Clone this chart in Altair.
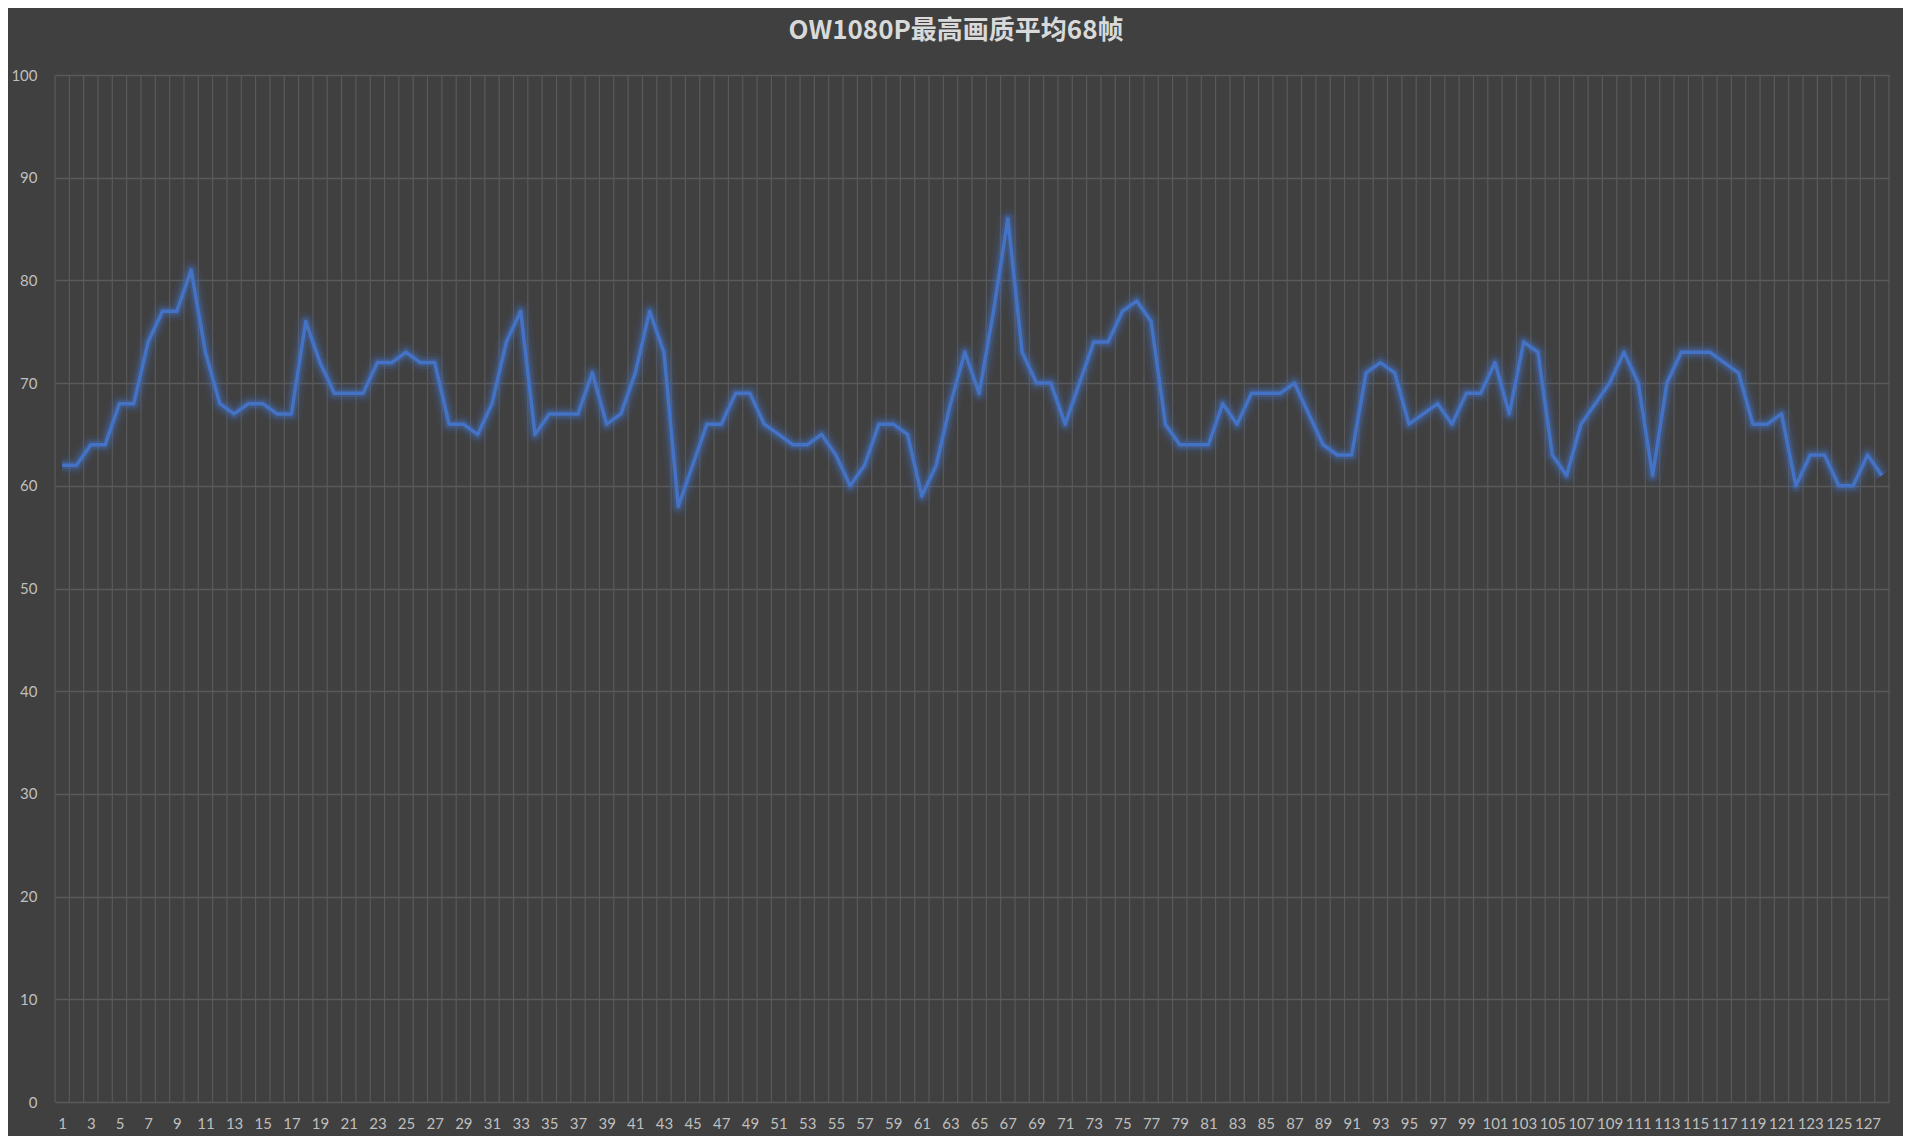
import altair as alt
import pandas as pd

title_text = "OW1080P最高画质平均68帧"

frames = [
    62, 62, 64, 64, 68, 68, 74, 77, 77, 81,
    73, 68, 67, 68, 68, 67, 67, 76, 72, 69,
    69, 69, 72, 72, 73, 72, 72, 66, 66, 65,
    68, 74, 77, 65, 67, 67, 67, 71, 66, 67,
    71, 77, 73, 58, 62, 66, 66, 69, 69, 66,
    65, 64, 64, 65, 63, 60, 62, 66, 66, 65,
    59, 62, 68, 73, 69, 77, 86, 73, 70, 70,
    66, 70, 74, 74, 77, 78, 76, 66, 64, 64,
    64, 68, 66, 69, 69, 69, 70, 67, 64, 63,
    63, 71, 72, 71, 66, 67, 68, 66, 69, 69,
    72, 67, 74, 73, 63, 61, 66, 68, 70, 73,
    70, 61, 70, 73, 73, 73, 72, 71, 66, 66,
    67, 60, 63, 63, 60, 60, 63, 61,
]
categories = list(range(1, len(frames) + 1))
x_labels = [c for c in categories if c % 2 == 1]
y_ticks = list(range(0, 101, 10))

df = pd.DataFrame({"idx": categories, "fps": frames})
bounds = pd.DataFrame({"b": [c - 0.5 for c in categories] + [categories[-1] + 0.5]})

BG = "#404040"
GRID = "#5a5a5a"
LINE = "#4472C4"
TXT = "#bfbfbf"

xscale = alt.Scale(domain=[0.5, len(categories) + 0.5], nice=False, zero=False)
yscale = alt.Scale(domain=[0, 100], nice=False)

xaxis = alt.Axis(
    values=x_labels,
    grid=False,
    ticks=False,
    domain=False,
    labelAngle=0,
    labelOverlap=False,
    labelFlush=False,
    labelPadding=14,
    labelFont="Lato",
    labelFontSize=15,
    labelColor=TXT,
    title=None,
)

vgrid = alt.Chart(bounds).mark_rule(color=GRID, strokeWidth=1.2).encode(
    x=alt.X("b:Q", scale=xscale, axis=xaxis)
)

base = alt.Chart(df).encode(
    x=alt.X("idx:Q", scale=xscale, axis=xaxis),
    y=alt.Y(
        "fps:Q",
        scale=yscale,
        axis=alt.Axis(
            values=y_ticks,
            grid=True,
            gridColor=GRID,
            gridWidth=1.4,
            ticks=False,
            domain=False,
            labelPadding=18,
            labelFont="Lato",
            labelFontSize=15,
            labelColor=TXT,
            title=None,
        ),
    ),
)

glow1 = base.mark_line(color=LINE, strokeWidth=20, opacity=0.08, strokeJoin="round")
glow2 = base.mark_line(color=LINE, strokeWidth=13, opacity=0.16, strokeJoin="round")
glow3 = base.mark_line(color=LINE, strokeWidth=8, opacity=0.3, strokeJoin="round")
main = base.mark_line(color=LINE, strokeWidth=3.5, strokeJoin="round")

chart = (
    alt.layer(vgrid, glow1, glow2, glow3, main)
    .properties(
        width=1834,
        height=1027,
        autosize=alt.AutoSizeParams(type="none"),
        padding={"left": 47, "top": 67, "right": 14, "bottom": 34},
        background=BG,
        title=alt.TitleParams(
            text=title_text,
            font="Noto Sans CJK SC",
            fontSize=26,
            fontWeight="bold",
            color="#d9d9d9",
            anchor="middle",
            dx=-16,
            offset=24,
        ),
    )
    .configure_view(stroke=None)
)

chart.save("out.html", embed_options={"renderer": "svg", "actions": False})
